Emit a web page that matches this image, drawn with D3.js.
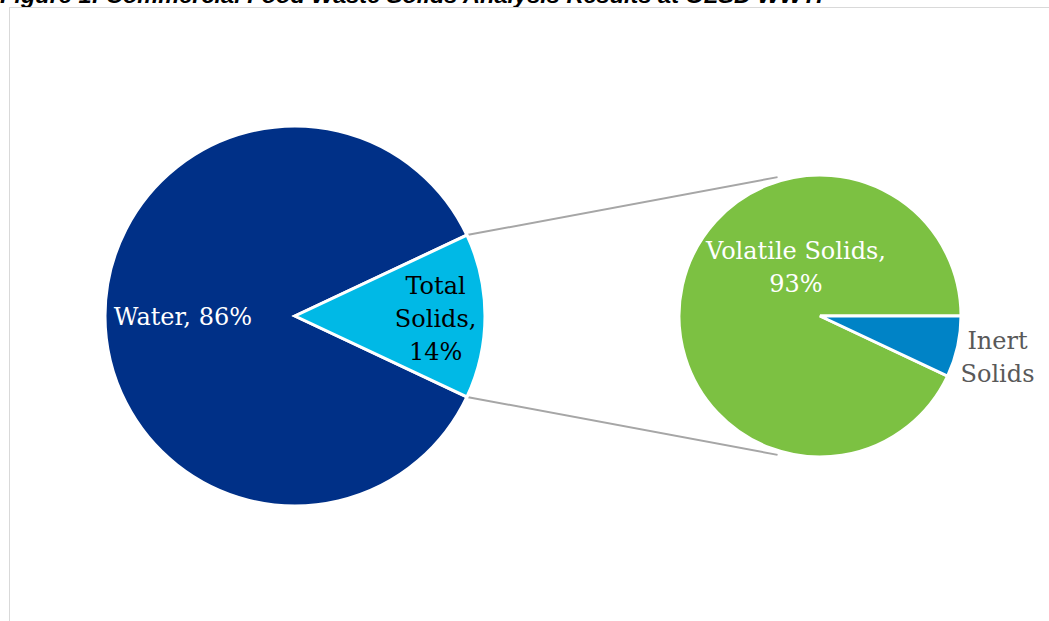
<!DOCTYPE html>
<html>
<head>
<meta charset="utf-8">
<script src="https://cdn.jsdelivr.net/npm/d3@7"></script>
<style>
  html, body { margin: 0; padding: 0; background: #fff; overflow: hidden; }
  svg { display: block; }
</style>
</head>
<body>
<div id="chart"></div>
<script>
// main pie
const mainLabels = ['Water', 'Total Solids'];
const mainValues = [86, 14];
const mainColors = ['#003087', '#00b9e6'];

// breakdown of total solids
const subLabels = ['Volatile Solids', 'Inert Solids'];
const subValues = [93, 7];
const subColors = ['#7cc142', '#0083c6'];

const title = 'Figure 1: Commercial Food Waste Solids Analysis Results at OLSD WWTP';

const width = 1049, height = 621;

const svg = d3.select('#chart').append('svg')
    .attr('width', width)
    .attr('height', height);

// title, mostly cut off above the frame
svg.append('text')
    .attr('x', 0)
    .attr('y', 3)
    .attr('textLength', 832)
    .attr('lengthAdjust', 'spacingAndGlyphs')
    .style('font-family', 'Liberation Sans, Arial, sans-serif')
    .style('font-weight', 'bold')
    .style('font-style', 'italic')
    .style('font-size', '22px')
    .attr('fill', '#000')
    .text(title);

// chart frame
svg.append('rect')
    .attr('x', 9.5)
    .attr('y', 7.5)
    .attr('width', 1200)
    .attr('height', 800)
    .attr('fill', 'none')
    .attr('stroke', '#d9d9d9')
    .attr('stroke-width', 1);

const main = {cx: 295, cy: 316, r: 190};
const sub = {cx: 820, cy: 316, r: 141};

const labelFont = 'DejaVu Serif, serif';

// main pie: the solids slice is centred on 3 o'clock
let solidsShare = mainValues[1] / d3.sum(mainValues);
let mainStart = Math.PI / 2 + solidsShare * Math.PI;
let mainPie = d3.pie().sort(null)
    .startAngle(mainStart)
    .endAngle(mainStart + 2 * Math.PI);
let mainArcs = mainPie(mainValues);

// secondary pie: inert slice starts at 3 o'clock going clockwise
let inertShare = subValues[1] / d3.sum(subValues);
let subStart = Math.PI / 2 + inertShare * 2 * Math.PI;
let subPie = d3.pie().sort(null)
    .startAngle(subStart)
    .endAngle(subStart + 2 * Math.PI);
let subArcs = subPie(subValues);

// connector lines from the solids slice edges to the secondary pie
let sliceEdge = (a) => [main.cx + main.r * Math.sin(a), main.cy - main.r * Math.cos(a)];
let solids = mainArcs[1];
let pTop = sliceEdge(solids.startAngle);
let pBottom = sliceEdge(solids.endAngle);
let tipA = 17 * Math.PI / 180;
let qTop = [sub.cx - sub.r * 1.03 * Math.sin(tipA), sub.cy - sub.r * 1.03 * Math.cos(tipA)];
let qBottom = [sub.cx - sub.r * 1.03 * Math.sin(tipA), sub.cy + sub.r * 1.03 * Math.cos(tipA)];

svg.append('g')
    .selectAll('line')
    .data([[pTop, qTop], [pBottom, qBottom]])
    .join('line')
    .attr('x1', d => d[0][0])
    .attr('y1', d => d[0][1])
    .attr('x2', d => d[1][0])
    .attr('y2', d => d[1][1])
    .attr('stroke', '#a6a6a6')
    .attr('stroke-width', 2);

let arcMain = d3.arc().innerRadius(0).outerRadius(main.r);
svg.append('g')
    .attr('transform', `translate(${main.cx},${main.cy})`)
    .selectAll('path')
    .data(mainArcs)
    .join('path')
    .attr('d', arcMain)
    .attr('fill', (d, i) => mainColors[i])
    .attr('stroke', '#fff')
    .attr('stroke-width', 3)
    .attr('stroke-linejoin', 'miter');

let arcSub = d3.arc().innerRadius(0).outerRadius(sub.r);
svg.append('g')
    .attr('transform', `translate(${sub.cx},${sub.cy})`)
    .selectAll('path')
    .data(subArcs)
    .join('path')
    .attr('d', arcSub)
    .attr('fill', (d, i) => subColors[i])
    .attr('stroke', '#fff')
    .attr('stroke-width', 3)
    .attr('stroke-linejoin', 'miter');

// labels
let pct = (v, arr) => Math.round(v / d3.sum(arr) * 100) + '%';

let multiLine = (x, y, lines, color, lh) => {
    let t = svg.append('text')
        .attr('text-anchor', 'middle')
        .style('font-family', labelFont)
        .style('font-size', '24px')
        .attr('fill', color);
    let y0 = y - (lines.length - 1) * lh / 2;
    lines.forEach((s, i) => {
        t.append('tspan')
            .attr('x', x)
            .attr('y', y0 + i * lh)
            .attr('dy', '0.38em')
            .text(s);
    });
};

let at = (c, ang, k) => [c.cx + c.r * k * Math.sin(ang), c.cy - c.r * k * Math.cos(ang)];
let mid = (d) => (d.startAngle + d.endAngle) / 2;

let wPos = at(main, mid(mainArcs[0]), 0.59);
multiLine(wPos[0], wPos[1], [mainLabels[0] + ', ' + pct(mainValues[0], mainValues)], '#fff', 33);

let tPos = at(main, mid(mainArcs[1]) - 2 * Math.PI, 0.74);
multiLine(tPos[0], tPos[1] + 2, ['Total', 'Solids,', pct(mainValues[1], mainValues)], '#000', 33);

multiLine(sub.cx - 24, sub.cy - 50, [subLabels[0] + ',', pct(subValues[0], subValues)], '#fff', 33);

let iPos = at(sub, mid(subArcs[1]) - 2 * Math.PI, 1.29);
multiLine(iPos[0], iPos[1] + 1, subLabels[1].split(' '), '#595959', 33);
</script>
</body>
</html>
